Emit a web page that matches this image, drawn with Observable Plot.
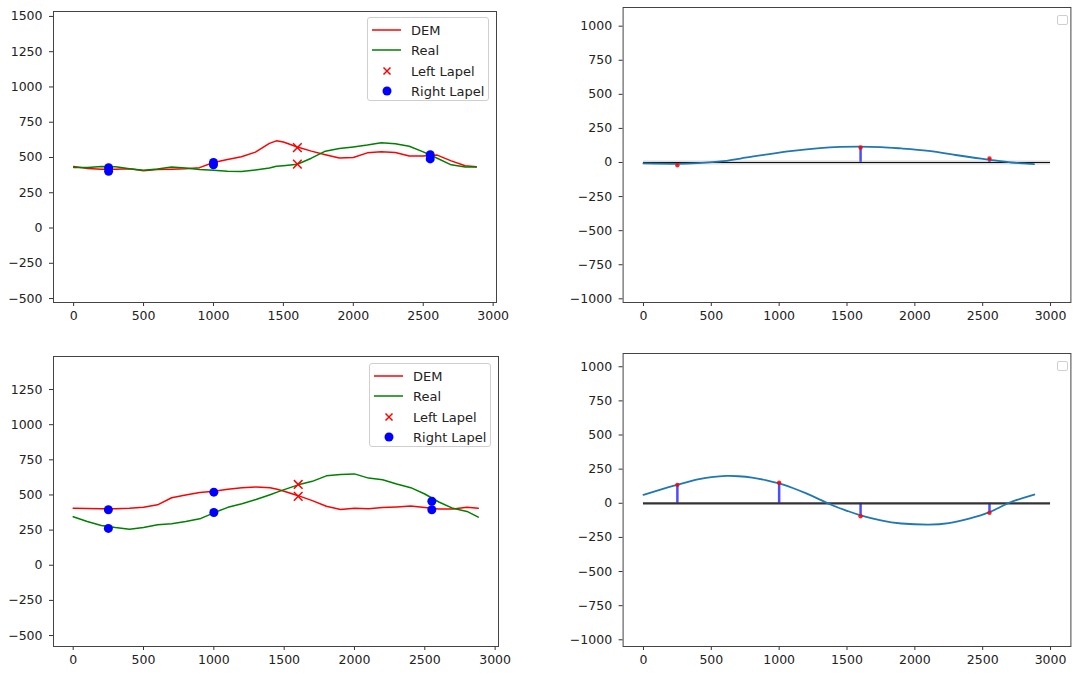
<!DOCTYPE html>
<html>
<head>
<meta charset="utf-8">
<script src="https://cdn.jsdelivr.net/npm/d3@7"></script>
<script src="https://cdn.jsdelivr.net/npm/@observablehq/plot@0.6"></script>
<style>
  html, body { margin: 0; padding: 0; background: #fff; }
  #root { position: relative; width: 1085px; height: 682px; background: #fff; overflow: hidden; }
  .panel { position: absolute; }
  .legend { position: absolute; box-sizing: border-box; border: 1px solid #cfcfcf; border-radius: 3px;
            background: rgba(255,255,255,0.8); font-family: "DejaVu Sans", sans-serif; font-size: 13px; color: #222; }
  .legend svg { position: absolute; left: 0; top: 0; overflow: visible; }
</style>
</head>
<body>
<div id="root"></div>
<script>
// ---------- data ----------
const xTicks = [0, 500, 1000, 1500, 2000, 2500, 3000];
const yTicksTL = [-500, -250, 0, 250, 500, 750, 1000, 1250, 1500];
const yTicksBL = [-500, -250, 0, 250, 500, 750, 1000, 1250];
const yTicksR = [-1000, -750, -500, -250, 0, 250, 500, 750, 1000];
const legendLabels = ["DEM", "Real", "Left Lapel", "Right Lapel"];

// top-left profiles
const profX  = [0, 100, 200, 300, 400, 500, 600, 700, 800, 900, 1000, 1100, 1200, 1300, 1400, 1450, 1500, 1600, 1700, 1800, 1900, 2000, 2100, 2200, 2300, 2400, 2500, 2600, 2700, 2800, 2880];
const tlDem  = [436, 422, 417, 416, 420, 406, 415, 417, 420, 428, 465, 485, 505, 538, 600, 618, 610, 574, 545, 520, 496, 500, 533, 540, 535, 510, 510, 517, 476, 441, 434];
const tlReal = [429, 429, 436, 434, 420, 410, 418, 432, 425, 415, 410, 402, 400, 412, 425, 438, 442, 452, 495, 545, 563, 575, 588, 605, 597, 580, 540, 495, 448, 432, 432];
const tlLeftX = [1600, 1600];
const tlLeftY = [570, 453];
const tlRightX = [250, 250, 1000, 1000, 2550, 2550];
const tlRightY = [428, 402, 465, 448, 520, 490];

// bottom-left profiles
const blDem  = [406, 404, 402, 402, 406, 413, 430, 480, 500, 518, 526, 540, 552, 557, 552, 540, 527, 495, 460, 420, 397, 405, 402, 410, 415, 422, 410, 400, 400, 412, 405];
const blReal = [345, 311, 283, 268, 256, 268, 288, 295, 311, 330, 373, 412, 437, 468, 502, 520, 538, 572, 597, 636, 645, 650, 620, 608, 578, 552, 507, 450, 405, 383, 342];
const blLeftX = [1600, 1600];
const blLeftY = [575, 490];
const blRightX = [250, 250, 1000, 1000, 2550, 2550];
const blRightY = [395, 262, 520, 375, 455, 395];

// top-right difference curve
const trCurveX = [0, 250, 400, 586, 750, 928, 1100, 1300, 1450, 1588, 1750, 1900, 2101, 2300, 2450, 2553, 2712, 2800, 2878];
const trCurveY = [-7, -10, -5, 10, 35, 62, 85, 105, 114, 117, 113, 103, 85, 55, 33, 20, 0, -7, -12];
const trDiffX = [250, 1600, 2550];
const trDiffY = [-20, 110, 30];

// bottom-right difference curve
const brCurveX = [0, 150, 250, 400, 500, 611, 700, 800, 900, 1000, 1100, 1200, 1300, 1400, 1500, 1600, 1750, 1900, 2100, 2250, 2400, 2550, 2687, 2800, 2880];
const brCurveY = [62, 108, 136, 175, 192, 200, 198, 188, 170, 145, 112, 72, 27, -18, -55, -88, -125, -148, -156, -145, -112, -65, 0, 40, 64];
const brDiffX = [250, 1000, 1600, 2550];
const brDiffY = [135, 150, -95, -70];

const zeroLine = [{x1: 0, x2: 3000, y: 0}];

// ---------- helpers ----------
const zip = (xs, ys) => xs.map((x, i) => ({x, y: ys[i]}));
const fmt = d => d < 0 ? "\u2212" + Math.abs(d) : String(d);
const root = document.getElementById("root");

function axes(yTicks) {
  return [
    Plot.axisX(xTicks, {tickSize: 4, tickPadding: 5, tickFormat: fmt, label: null, stroke: "#333"}),
    Plot.axisY(yTicks, {tickSize: 4, tickPadding: 7, tickFormat: fmt, label: null, stroke: "#333"})
  ];
}

function place(el, left, top) {
  const d = document.createElement("div");
  d.className = "panel";
  d.style.left = left + "px";
  d.style.top = top + "px";
  d.appendChild(el);
  root.appendChild(d);
}

const style = {fontFamily: "DejaVu Sans, sans-serif", fontSize: "12.5px", color: "#222", background: "transparent", overflow: "visible"};

function profilePanel({width, height, mt, mr, mb, ml, xDomain, yDomain, yTicks, dem, real, leftX, leftY, rightX, rightY}) {
  return Plot.plot({
    width, height, marginTop: mt, marginRight: mr, marginBottom: mb, marginLeft: ml,
    x: {domain: xDomain}, y: {domain: yDomain},
    style,
    marks: [
      ...axes(yTicks),
      Plot.line(zip(profX, dem), {x: "x", y: "y", stroke: "#ff0000", strokeWidth: 1.5}),
      Plot.line(zip(profX, real), {x: "x", y: "y", stroke: "#008000", strokeWidth: 1.5}),
      Plot.dot(zip(leftX, leftY), {x: "x", y: "y", symbol: "times", stroke: "#ff0000", strokeWidth: 1.5, r: 4}),
      Plot.dot(zip(rightX, rightY), {x: "x", y: "y", fill: "#0000ff", r: 4.5}),
      Plot.frame({stroke: "#444", strokeWidth: 1})
    ]
  });
}

function diffPanel({width, height, mt, mr, mb, ml, xDomain, yDomain, cx, cy, dx, dy, thinZero}) {
  const zeroMarks = thinZero
    ? [Plot.ruleY(zeroLine, {x1: "x1", x2: "x2", y: "y", stroke: "#999", strokeWidth: 4, strokeOpacity: 0.35}),
       Plot.ruleY(zeroLine, {x1: "x1", x2: "x2", y: "y", stroke: "#111", strokeWidth: 1.2})]
    : [Plot.ruleY(zeroLine, {x1: "x1", x2: "x2", y: "y", stroke: "#333", strokeWidth: 2.3})];
  const diffs = zip(dx, dy);
  return Plot.plot({
    width, height, marginTop: mt, marginRight: mr, marginBottom: mb, marginLeft: ml,
    x: {domain: xDomain}, y: {domain: yDomain},
    style,
    marks: [
      ...axes(yTicksR),
      Plot.ruleX(diffs, {x: "x", y1: () => 0, y2: "y", stroke: "#0000ff", strokeWidth: 2.5, strokeOpacity: 0.7}),
      ...zeroMarks,
      Plot.line(zip(cx, cy), {x: "x", y: "y", stroke: "#1f77b4", strokeWidth: 1.8, curve: "natural"}),
      Plot.dot(diffs, {x: "x", y: "y", fill: "#ff0000", fillOpacity: 0.85, r: 2.2}),
      Plot.frame({stroke: "#444", strokeWidth: 1})
    ]
  });
}

function legend(left, top) {
  const box = document.createElement("div");
  box.className = "legend";
  Object.assign(box.style, {left: left + "px", top: top + "px", width: "122px", height: "84px"});
  const ys = [12, 32, 53, 73];
  let s = `<svg width="122" height="84" font-family="DejaVu Sans, sans-serif" font-size="13" fill="#222">`;
  s += `<line x1="4" x2="33" y1="${ys[0]}" y2="${ys[0]}" stroke="#ff0000" stroke-width="1.5"/>`;
  s += `<line x1="4" x2="33" y1="${ys[1]}" y2="${ys[1]}" stroke="#008000" stroke-width="1.5"/>`;
  s += `<path d="M15.5,${ys[2]-3.5}L22.5,${ys[2]+3.5}M15.5,${ys[2]+3.5}L22.5,${ys[2]-3.5}" stroke="#ff0000" stroke-width="1.5"/>`;
  s += `<circle cx="19" cy="${ys[3]}" r="4.5" fill="#0000ff"/>`;
  legendLabels.forEach((t, i) => { s += `<text x="43" y="${ys[i]}" dy="0.36em">${t}</text>`; });
  s += `</svg>`;
  box.innerHTML = s;
  root.appendChild(box);
}

function emptyLegend(left, top) {
  const box = document.createElement("div");
  box.className = "legend";
  Object.assign(box.style, {left: left + "px", top: top + "px", width: "11px", height: "10px", borderRadius: "2px"});
  root.appendChild(box);
}

// ---------- panels ----------
place(profilePanel({width: 540, height: 335, mt: 11, mr: 44, mb: 33, ml: 53,
  xDomain: [-144, 3024], yDomain: [-528, 1535], yTicks: yTicksTL,
  dem: tlDem, real: tlReal, leftX: tlLeftX, leftY: tlLeftY, rightX: tlRightX, rightY: tlRightY}), 0, 0);

place(diffPanel({width: 545, height: 335, mt: 7, mr: 14.6, mb: 33, ml: 82.6,
  xDomain: [-150, 3150], yDomain: [-1027, 1137],
  cx: trCurveX, cy: trCurveY, dx: trDiffX, dy: trDiffY, thinZero: true}), 540, 0);

place(profilePanel({width: 540, height: 342, mt: 16, mr: 42, mb: 36, ml: 53,
  xDomain: [-140, 3024], yDomain: [-578, 1485], yTicks: yTicksBL,
  dem: blDem, real: blReal, leftX: blLeftX, leftY: blLeftY, rightX: blRightX, rightY: blRightY}), 0, 340);

place(diffPanel({width: 545, height: 342, mt: 13, mr: 14.6, mb: 36, ml: 82.6,
  xDomain: [-150, 3150], yDomain: [-1049, 1097],
  cx: brCurveX, cy: brCurveY, dx: brDiffX, dy: brDiffY, thinZero: false}), 540, 340);

legend(367, 17);
legend(369, 363);
emptyLegend(1057, 15);
emptyLegend(1057, 361);
</script>
</body>
</html>
